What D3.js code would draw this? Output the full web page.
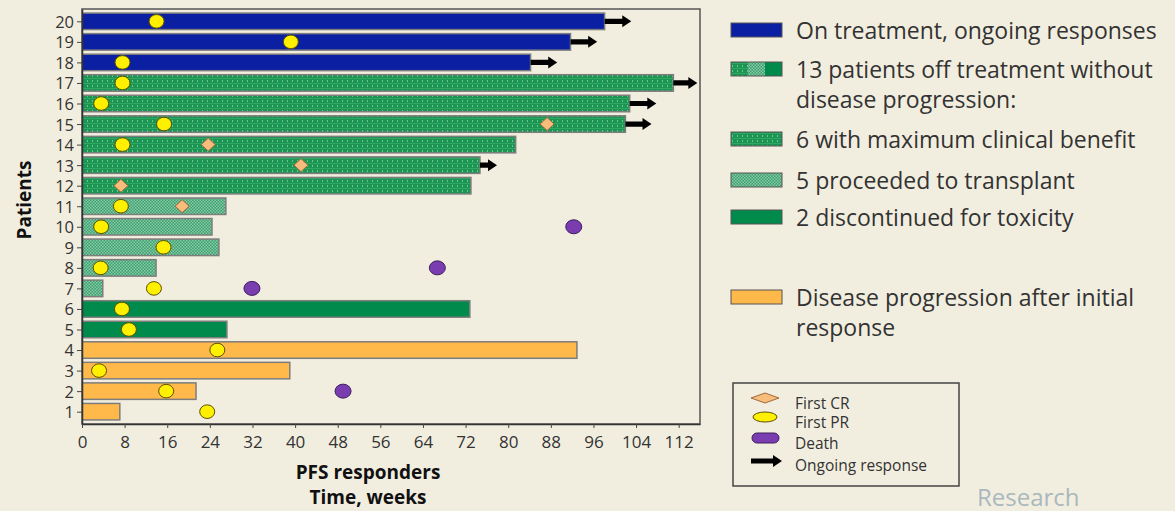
<!DOCTYPE html>
<html>
<head>
<meta charset="utf-8">
<script src="https://cdn.jsdelivr.net/npm/d3@7"></script>
<style>
  html, body { margin: 0; padding: 0; background: #f2eedf; }
  svg { display: block; }
  text { font-family: "Open Sans", "DejaVu Sans", sans-serif; }
</style>
</head>
<body>
<div id="chart"></div>
<script>
// patients on the y axis, bar end (weeks) and group of each bar
var patients = [1, 2, 3, 4, 5, 6, 7, 8, 9, 10, 11, 12, 13, 14, 15, 16, 17, 18, 19, 20];
var barEnd = [7.1, 21.4, 39, 92.9, 27.2, 72.8, 3.9, 13.9, 25.7, 24.4, 27, 73, 74.7, 81.4, 102, 102.8, 111, 84.2, 91.7, 98.1];
var group = ['prog', 'prog', 'prog', 'prog', 'tox', 'tox', 'trans', 'trans', 'trans', 'trans', 'trans',
             'max', 'max', 'max', 'max', 'max', 'max', 'ongoing', 'ongoing', 'ongoing'];

// events, in weeks
var firstPR = [23.5, 15.8, 3.2, 25.4, 8.8, 7.5, 13.5, 3.5, 15.3, 3.6, 7.3, null, null, 7.6, 15.4, 3.6, 7.6, 7.6, 39.2, 14.0];
var crPatients = [11, 12, 13, 14, 15];
var crWeek = [18.8, 7.3, 41.1, 23.7, 87.3];
var deathPatients = [2, 7, 8, 10];
var deathWeek = [49.0, 31.9, 66.7, 92.3];
var ongoingPatients = [13, 15, 16, 17, 18, 19, 20];
var ongoingLen = [3.2, 4.9, 5, 4.5, 5, 5, 5];

var xTicks = [0, 8, 16, 24, 32, 40, 48, 56, 64, 72, 80, 88, 96, 104, 112];

var width = 1175, height = 511;

var svg = d3.select('#chart').append('svg')
    .attr('width', width)
    .attr('height', height)
    .attr('viewBox', '0 0 ' + width + ' ' + height);

svg.append('rect').attr('width', width).attr('height', height).attr('fill', '#f2eedf');

var defs = svg.append('defs');

// dotted grid for "maximum clinical benefit"
var pMax = defs.append('pattern').attr('id', 'pMax')
    .attr('patternUnits', 'userSpaceOnUse').attr('width', 5).attr('height', 5);
pMax.append('rect').attr('width', 5).attr('height', 5).attr('fill', '#1c9553');
pMax.append('rect').attr('x', 2).attr('y', 0).attr('width', 1).attr('height', 2).attr('fill', '#6cc493');
pMax.append('rect').attr('x', 0).attr('y', 3).attr('width', 5).attr('height', 1).attr('fill', '#2fa866');

// fine checker for "proceeded to transplant"
var pTrans = defs.append('pattern').attr('id', 'pTrans')
    .attr('patternUnits', 'userSpaceOnUse').attr('width', 3).attr('height', 3);
pTrans.append('rect').attr('width', 3).attr('height', 3).attr('fill', '#3c9f6f');
pTrans.append('rect').attr('width', 1.5).attr('height', 1.5).attr('fill', '#88cca5');
pTrans.append('rect').attr('x', 1.5).attr('y', 1.5).attr('width', 1.5).attr('height', 1.5).attr('fill', '#88cca5');

var fills = {
    ongoing: '#0b1fa3',
    max: 'url(#pMax)',
    trans: 'url(#pTrans)',
    tox: '#008a4b',
    prog: '#ffb84a'
};

var x = d3.scaleLinear().domain([0, 116]).range([82, 700]);
var y = d3.scaleLinear().domain([0.4, 20.6]).range([424, 9]);
var barH = 16.5;

// frame
svg.append('rect')
    .attr('x', x(0)).attr('y', y(20.6))
    .attr('width', x(116) - x(0)).attr('height', y(0.4) - y(20.6))
    .attr('fill', 'none').attr('stroke', '#555').attr('stroke-width', 1.5);

// bars
svg.append('g').selectAll('rect')
    .data(patients)
    .join('rect')
    .attr('x', x(0))
    .attr('y', function (d) { return y(d) - barH / 2; })
    .attr('width', function (d, i) { return x(barEnd[i]) - x(0); })
    .attr('height', barH)
    .attr('fill', function (d, i) { return fills[group[i]]; })
    .attr('stroke', '#7d7d7d')
    .attr('stroke-width', 1.5);

// arrow helper
function arrow(g, x0, x1, yc) {
    var head = 9;
    g.append('path')
        .attr('d', 'M' + x0 + ',' + (yc - 2.6) + 'H' + (x1 - head) + 'V' + (yc - 6) +
            'L' + x1 + ',' + yc + 'L' + (x1 - head) + ',' + (yc + 6) + 'V' + (yc + 2.6) + 'H' + x0 + 'Z')
        .attr('fill', '#000');
}

var gArr = svg.append('g');
ongoingPatients.forEach(function (p, i) {
    var e = barEnd[p - 1];
    arrow(gArr, x(e), x(e + ongoingLen[i]), y(p));
});

// first PR
svg.append('g').selectAll('ellipse')
    .data(patients.filter(function (d, i) { return firstPR[i] != null; }))
    .join('ellipse')
    .attr('cx', function (d) { return x(firstPR[d - 1]); })
    .attr('cy', function (d) { return y(d); })
    .attr('rx', 7.5).attr('ry', 6.8)
    .attr('fill', '#fff000').attr('stroke', '#5a5000').attr('stroke-width', 1);

// first CR
svg.append('g').selectAll('path')
    .data(crPatients)
    .join('path')
    .attr('d', function (d, i) {
        var cx = x(crWeek[i]), cy = y(d);
        return 'M' + (cx - 7) + ',' + cy + 'L' + cx + ',' + (cy - 6.5) + 'L' + (cx + 7) + ',' + cy + 'L' + cx + ',' + (cy + 6.5) + 'Z';
    })
    .attr('fill', '#f8bd7c').attr('stroke', '#a06a3a').attr('stroke-width', 1);

// death
svg.append('g').selectAll('ellipse')
    .data(deathPatients)
    .join('ellipse')
    .attr('cx', function (d, i) { return x(deathWeek[i]); })
    .attr('cy', function (d) { return y(d); })
    .attr('rx', 8).attr('ry', 7)
    .attr('fill', '#7a3db0').attr('stroke', '#3e1c5e').attr('stroke-width', 1);

// axes
var yAxis = svg.append('g')
    .attr('transform', 'translate(' + x(0) + ',0)')
    .call(d3.axisLeft(y).tickValues(patients).tickSize(5).tickSizeOuter(0).tickPadding(3));
var xAxis = svg.append('g')
    .attr('transform', 'translate(0,' + y(0.4) + ')')
    .call(d3.axisBottom(x).tickValues(xTicks).tickSize(4).tickSizeOuter(0).tickPadding(8));

[yAxis, xAxis].forEach(function (a) {
    a.select('.domain').attr('stroke', '#333').attr('stroke-width', 1.5);
    a.selectAll('.tick line').attr('stroke', '#444');
    a.selectAll('.tick text')
        .attr('font-family', '"Open Sans", sans-serif')
        .attr('font-size', 17).attr('fill', '#333');
});
yAxis.selectAll('.tick text').attr('font-size', 16.5).attr('dy', '0.36em');

// axis titles
svg.append('text')
    .attr('transform', 'translate(24,200) rotate(-90)')
    .attr('text-anchor', 'middle').attr('dominant-baseline', 'central')
    .attr('font-size', 19).attr('font-weight', 'bold').attr('fill', '#111')
    .text('Patients');
svg.append('text')
    .attr('x', 368).attr('y', 479)
    .attr('text-anchor', 'middle')
    .attr('font-size', 19).attr('font-weight', 'bold').attr('fill', '#111')
    .text('PFS responders');
svg.append('text')
    .attr('x', 368).attr('y', 504)
    .attr('text-anchor', 'middle')
    .attr('font-size', 19).attr('font-weight', 'bold').attr('fill', '#111')
    .text('Time, weeks');

// legend for bar groups
var legendKeys = ['ongoing', 'all', 'max', 'trans', 'tox', 'prog'];
var legendLines = [
    ['On treatment, ongoing responses'],
    ['13 patients off treatment without', 'disease progression:'],
    ['6 with maximum clinical benefit'],
    ['5 proceeded to transplant'],
    ['2 discontinued for toxicity'],
    ['Disease progression after initial', 'response']
];
var legendY = [30, 69, 139, 180, 217, 297];

var lg = svg.append('g');
legendKeys.forEach(function (k, i) {
    var cy = legendY[i];
    if (k === 'all') {
        lg.append('rect').attr('x', 731).attr('y', cy - 7).attr('width', 17).attr('height', 14).attr('fill', 'url(#pMax)');
        lg.append('rect').attr('x', 748).attr('y', cy - 7).attr('width', 17).attr('height', 14).attr('fill', 'url(#pTrans)');
        lg.append('rect').attr('x', 765).attr('y', cy - 7).attr('width', 17).attr('height', 14).attr('fill', fills.tox);
        lg.append('rect').attr('x', 731).attr('y', cy - 7).attr('width', 51).attr('height', 14)
            .attr('fill', 'none').attr('stroke', '#555').attr('stroke-width', 1);
    } else {
        lg.append('rect').attr('x', 731).attr('y', cy - 7).attr('width', 51).attr('height', 14)
            .attr('fill', fills[k]).attr('stroke', '#555').attr('stroke-width', 1);
    }
    legendLines[i].forEach(function (t, j) {
        lg.append('text')
            .attr('x', 796).attr('y', cy + j * 30)
            .attr('dominant-baseline', 'central')
            .attr('font-size', 23).attr('fill', '#333')
            .text(t);
    });
});

// legend for markers
var mg = svg.append('g');
mg.append('rect').attr('x', 733).attr('y', 383).attr('width', 226).attr('height', 103)
    .attr('fill', 'none').attr('stroke', '#444').attr('stroke-width', 1.5);
var markLabels = ['First CR', 'First PR', 'Death', 'Ongoing response'];
var markY = [403, 422, 443, 465];
markLabels.forEach(function (t, i) {
    mg.append('text').attr('x', 795).attr('y', markY[i])
        .attr('dominant-baseline', 'central')
        .attr('font-size', 15.5).attr('fill', '#333').text(t);
});
mg.append('path')
    .attr('d', 'M751,398L765,393L779,398L765,403Z')
    .attr('fill', '#f8bd7c').attr('stroke', '#a06a3a');
mg.append('ellipse').attr('cx', 765).attr('cy', 417).attr('rx', 12).attr('ry', 5)
    .attr('fill', '#fff000').attr('stroke', '#5a5000');
mg.append('rect').attr('x', 752).attr('y', 433).attr('width', 27).attr('height', 10).attr('rx', 5)
    .attr('fill', '#7a3db0').attr('stroke', '#3e1c5e');
arrow(mg, 751, 782, 461);

// watermark
svg.append('text')
    .attr('x', 977).attr('y', 506)
    .attr('font-size', 24).attr('fill', '#a9b8be')
    .text('Research');
</script>
</body>
</html>
